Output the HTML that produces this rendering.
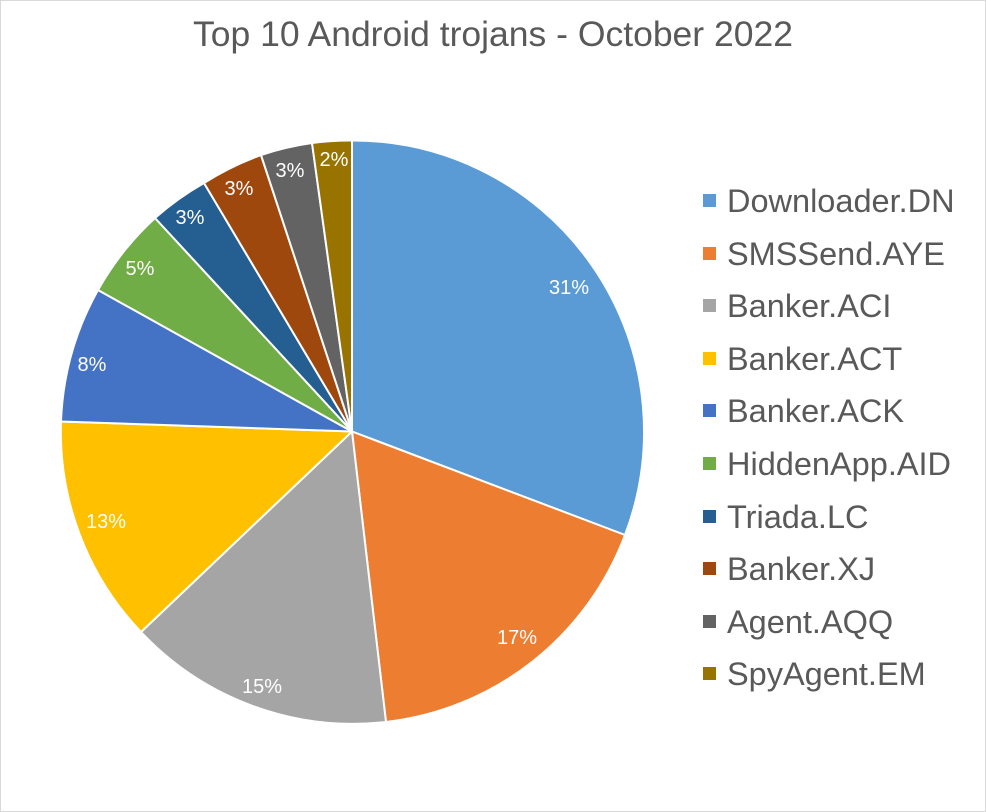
<!DOCTYPE html>
<html><head><meta charset="utf-8"><style>
html,body{margin:0;padding:0;background:#fff;}
svg{display:block;}
</style></head><body>
<svg width="986" height="812" viewBox="0 0 986 812" xmlns="http://www.w3.org/2000/svg" font-family="Liberation Sans, Arial, sans-serif">
<rect x="0.5" y="0.5" width="985" height="811" fill="#fff" stroke="#d9d9d9"/>
<text x="493" y="46" text-anchor="middle" font-size="35.5" fill="#595959">Top 10 Android trojans - October 2022</text>
<g stroke="#fff" stroke-width="2" stroke-linejoin="round">
<path d="M352,431.5 L352,140.5 A291,291 0 0 1 625,535 Z" fill="#5B9BD5"/>
<path d="M352,431.5 L625,535 A291,291 0 0 1 386,722 Z" fill="#ED7D31"/>
<path d="M352,431.5 L386,722 A291,291 0 0 1 141,632 Z" fill="#A5A5A5"/>
<path d="M352,431.5 L141,632 A291,291 0 0 1 61,421.5 Z" fill="#FFC000"/>
<path d="M352,431.5 L61,421.5 A291,291 0 0 1 98,290 Z" fill="#4472C4"/>
<path d="M352,431.5 L98,290 A291,291 0 0 1 155,218 Z" fill="#70AD47"/>
<path d="M352,431.5 L155,218 A291,291 0 0 1 204,183 Z" fill="#255E91"/>
<path d="M352,431.5 L204,183 A291,291 0 0 1 261,155 Z" fill="#9E480E"/>
<path d="M352,431.5 L261,155 A291,291 0 0 1 312,143 Z" fill="#636363"/>
<path d="M352,431.5 L312,143 A291,291 0 0 1 352,140.5 Z" fill="#997300"/>
</g>
<g fill="#fff" font-size="20" text-anchor="middle">
<text x="569" y="294">31%</text>
<text x="517" y="644">17%</text>
<text x="262" y="693">15%</text>
<text x="106" y="528">13%</text>
<text x="92" y="371">8%</text>
<text x="140" y="275">5%</text>
<text x="190" y="224">3%</text>
<text x="239" y="195">3%</text>
<text x="290" y="177">3%</text>
<text x="334" y="166">2%</text>
</g>
<g font-size="32.5" fill="#595959">
<rect x="703" y="194" width="13" height="13" fill="#5B9BD5"/><text x="727" y="212">Downloader.DN</text>
<rect x="703" y="247" width="13" height="13" fill="#ED7D31"/><text x="727" y="265">SMSSend.AYE</text>
<rect x="703" y="299" width="13" height="13" fill="#A5A5A5"/><text x="727" y="317">Banker.ACI</text>
<rect x="703" y="352" width="13" height="13" fill="#FFC000"/><text x="727" y="370">Banker.ACT</text>
<rect x="703" y="404" width="13" height="13" fill="#4472C4"/><text x="727" y="422">Banker.ACK</text>
<rect x="703" y="457" width="13" height="13" fill="#70AD47"/><text x="727" y="475">HiddenApp.AID</text>
<rect x="703" y="510" width="13" height="13" fill="#255E91"/><text x="727" y="528">Triada.LC</text>
<rect x="703" y="562" width="13" height="13" fill="#9E480E"/><text x="727" y="580">Banker.XJ</text>
<rect x="703" y="615" width="13" height="13" fill="#636363"/><text x="727" y="633">Agent.AQQ</text>
<rect x="703" y="667" width="13" height="13" fill="#997300"/><text x="727" y="685">SpyAgent.EM</text>
</g>
</svg>
</body></html>
